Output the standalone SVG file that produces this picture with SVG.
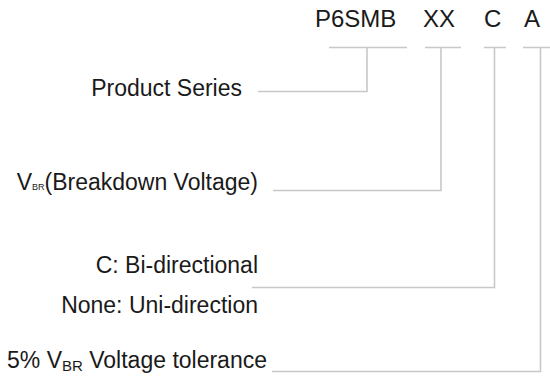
<svg xmlns="http://www.w3.org/2000/svg" width="550" height="389" viewBox="0 0 550 389">
<style>
.t{font-family:"Liberation Sans",Arial,sans-serif;font-size:23px;fill:#1a1a1a}
.h{font-size:24px}
.e{text-anchor:end}
.c{fill:none;stroke:#c8c8c8;stroke-width:1.6}
</style>
<rect width="550" height="389" fill="#fff"/>
<g id="code">
<text class="t h" x="315" y="27">P6SMB</text>
<text class="t h" x="423" y="27">XX</text>
<text class="t h" x="484" y="27">C</text>
<text class="t h" x="524" y="27">A</text>
</g>
<g id="connectors">
<path class="c" d="M329 47.5H407M367 47.5V91.5H258"/>
<path class="c" d="M425 47.5H461M441 47.5V190.5H273"/>
<path class="c" d="M484 47.5H506M494.5 47.5V287.5H252"/>
<path class="c" d="M523 47.5H550M540.5 47.5V371.5H272"/>
</g>
<g id="series"><text class="t e" x="242" y="96">Product Series</text></g>
<g id="vbr"><text class="t e" x="258" y="190">V<tspan font-size="9">BR</tspan>(Breakdown Voltage)</text></g>
<g id="dir">
<text class="t e" x="258" y="273">C: Bi-directional</text>
<text class="t e" x="258" y="313">None: Uni-direction</text>
</g>
<g id="tol"><text class="t e" x="267" y="368">5% V<tspan font-size="15" dy="3">BR</tspan><tspan dy="-3"> Voltage tolerance</tspan></text></g>
</svg>
